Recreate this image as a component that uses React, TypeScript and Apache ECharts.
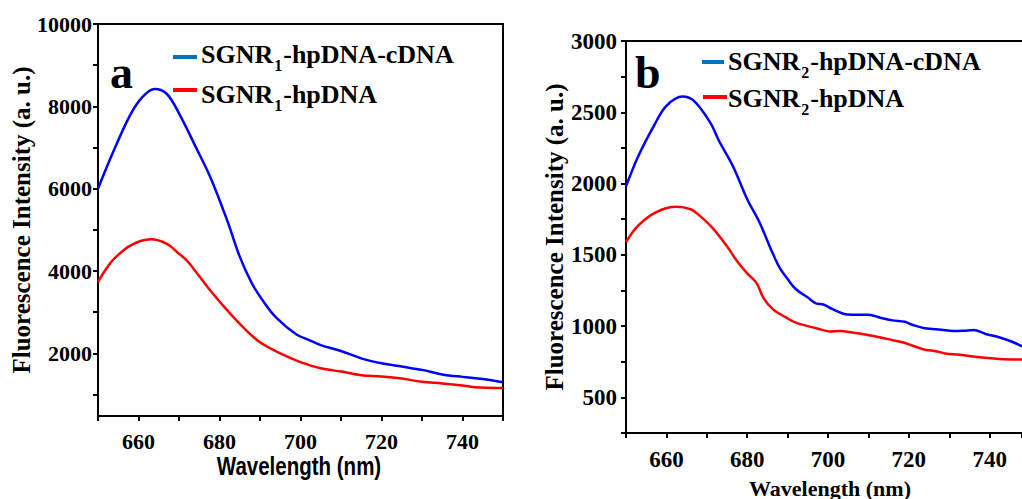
import React, { useEffect, useRef } from "react";
import * as echarts from "echarts";

// ---- Panel a data (wavelength nm / intensity a.u.) ----
const wlA_cDNA = [650, 654, 658, 661, 664, 667, 670, 674, 678, 682, 685, 688, 691, 694, 699, 702, 705, 710, 715, 720, 725, 730, 735, 740, 745, 750];
const valA_cDNA = [6000, 6950, 7800, 8230, 8420, 8300, 7830, 7040, 6220, 5200, 4350, 3700, 3240, 2870, 2460, 2330, 2200, 2060, 1880, 1760, 1680, 1600, 1490, 1430, 1380, 1300];
const wlA_hp = [650, 652, 654, 658, 663, 667, 670, 672, 677, 681, 686, 690, 695, 700, 705, 710, 715, 720, 725, 730, 735, 740, 743, 750];
const valA_hp = [3740, 4050, 4300, 4620, 4770, 4660, 4420, 4250, 3620, 3150, 2620, 2270, 2000, 1790, 1640, 1560, 1470, 1440, 1390, 1310, 1270, 1220, 1180, 1160];

// ---- Panel b data ----
const wlB_cDNA = [650, 653, 657, 660, 664, 667, 671, 673, 676.5, 680, 683, 686, 688, 690, 692, 695, 697, 699, 701, 704, 706, 710, 713, 716, 719, 721, 724, 728, 731, 733.5, 736, 739, 742.5, 746, 748];
const valB_cDNA = [1980, 2190, 2410, 2545, 2610, 2575, 2420, 2300, 2120, 1890, 1730, 1530, 1410, 1330, 1260, 1200, 1160, 1150, 1120, 1085, 1080, 1080, 1058, 1040, 1030, 1008, 985, 975, 966, 968, 972, 945, 920, 885, 857];
const wlB_hp = [650, 653, 657.5, 662.5, 666, 668, 671.5, 675, 677.5, 680, 682.3, 684, 686.4, 689.7, 692, 695, 698, 700.4, 703, 706, 709.5, 713, 716, 718.6, 721, 723.5, 727, 729, 732.6, 737.5, 742.5, 748];
const valB_hp = [1590, 1705, 1800, 1837, 1820, 1780, 1686, 1560, 1455, 1370, 1303, 1198, 1117, 1059, 1024, 1000, 978, 962, 966, 955, 939, 920, 901, 885, 862, 838, 822, 808, 799, 781, 769, 765];

// ---- Tick values ----
const xTicksLabelled = [660, 680, 700, 720, 740];
const yTicksA = [1000, 2000, 3000, 4000, 5000, 6000, 7000, 8000, 9000, 10000];
const yLabelsA = [2000, 4000, 6000, 8000, 10000];
const yLabelsB = [500, 1000, 1500, 2000, 2500, 3000];

const xTitle = "Wavelength (nm)";
const yTitle = "Fluorescence Intensity (a. u.)";

const SERIF = '"Liberation Serif", "Times New Roman", serif';
const SANS = '"Liberation Sans", Arial, sans-serif';
const BLUE = "#0000FF";
const RED = "#FF0000";
const LEG_BLUE = "#0070C0";

const pairs = (xs: number[], ys: number[]) => xs.map((x, i) => [x, ys[i]]);

function measure(text: string, size: number): number {
  const c = document.createElement("canvas").getContext("2d");
  if (!c) return text.length * size * 0.55;
  c.font = `bold ${size}px ${SERIF}`;
  return c.measureText(text).width;
}

function legendEntry(x: number, baseline: number, sub: string, rest: string, color: string, lx1: number, lx2: number, ly: number) {
  const big = 26;
  const small = 16;
  const w1 = measure("SGNR", big);
  const w2 = measure(sub, small);
  const c = (b: number, s: number) => b - 0.3375 * s;
  return [
    { type: "line", shape: { x1: lx1, y1: ly, x2: lx2, y2: ly }, style: { stroke: color, lineWidth: 4 } },
    { type: "text", x, y: c(baseline, big), style: { text: "SGNR", font: `bold ${big}px ${SERIF}`, fill: "#000", textAlign: "left", textVerticalAlign: "middle" } },
    { type: "text", x: x + w1 + 1, y: c(baseline + 8, small), style: { text: sub, font: `bold ${small}px ${SERIF}`, fill: "#000", textAlign: "left", textVerticalAlign: "middle" } },
    { type: "text", x: x + w1 + w2 + 2, y: c(baseline, big), style: { text: rest, font: `bold ${big}px ${SERIF}`, fill: "#000", textAlign: "left", textVerticalAlign: "middle" } },
  ];
}

export default function App() {
  const ref = useRef<HTMLDivElement>(null);
  useEffect(() => {
    if (!ref.current) return;
    const chart = echarts.init(ref.current, undefined, { renderer: "svg" });
    const axisLine = { show: true, lineStyle: { color: "#000", width: 2 } };
    const tick = { show: true, inside: false, length: 5, lineStyle: { color: "#000", width: 2 } };
    const lbl = (size: number, margin: number, custom: number[]) => ({
      customValues: custom,
      formatter: (v: number) => String(v),
      fontFamily: SERIF,
      fontWeight: "bold",
      fontSize: size,
      color: "#000",
      margin,
    });
    const line = (xi: number, xs: number[], ys: number[], color: string) => ({
      type: "line",
      xAxisIndex: xi,
      yAxisIndex: xi,
      data: pairs(xs, ys),
      showSymbol: false,
      smooth: 0.35,
      lineStyle: { color, width: 2.5 },
      itemStyle: { color },
    });
    const option: any = {
      animation: false,
      backgroundColor: "#fff",
      grid: [
        { left: 98, top: 24, width: 405, height: 392, show: true, borderColor: "#000", borderWidth: 2, backgroundColor: "transparent" },
        { left: 626, top: 41, width: 396, height: 392 },
      ],
      xAxis: [
        { gridIndex: 0, type: "value", min: 650, max: 750, interval: 10, axisLine, axisTick: tick, axisLabel: lbl(22, 14, xTicksLabelled), splitLine: { show: false } },
        { gridIndex: 1, type: "value", min: 650, max: 748, interval: 10, axisLine, axisTick: tick, axisLabel: lbl(23, 15, xTicksLabelled), splitLine: { show: false } },
        { gridIndex: 1, type: "value", position: "top", min: 650, max: 748, axisLine, axisTick: { show: false }, axisLabel: { show: false }, splitLine: { show: false } },
      ],
      yAxis: [
        { gridIndex: 0, type: "value", min: 480, max: 10000, axisLine, axisTick: { ...tick, customValues: yTicksA }, axisLabel: lbl(22, 6, yLabelsA), splitLine: { show: false } },
        { gridIndex: 1, type: "value", min: 250, max: 3000, interval: 250, axisLine, axisTick: tick, axisLabel: lbl(23, 9, yLabelsB), splitLine: { show: false } },
      ],
      series: [
        line(0, wlA_cDNA, valA_cDNA, BLUE),
        line(0, wlA_hp, valA_hp, RED),
        line(1, wlB_cDNA, valB_cDNA, BLUE),
        line(1, wlB_hp, valB_hp, RED),
      ],
      graphic: [
        // panel letters
        { type: "text", x: 110, y: 72, style: { text: "a", font: `bold 46px ${SERIF}`, fill: "#000", textAlign: "left", textVerticalAlign: "middle" } },
        { type: "text", x: 635, y: 72, style: { text: "b", font: `bold 46px ${SERIF}`, fill: "#000", textAlign: "left", textVerticalAlign: "middle" } },
        // legends
        ...legendEntry(201, 63, "1", "-hpDNA-cDNA", LEG_BLUE, 173, 197, 57),
        ...legendEntry(201, 103, "1", "-hpDNA", RED, 173, 197, 90),
        ...legendEntry(728, 70, "2", "-hpDNA-cDNA", LEG_BLUE, 702, 724, 62),
        ...legendEntry(728, 107, "2", "-hpDNA", RED, 703, 727, 97),
        // axis titles
        { type: "text", x: 299, y: 466, scaleX: 0.82, style: { text: xTitle, font: `bold 25px ${SANS}`, fill: "#000", textAlign: "center", textVerticalAlign: "middle" } },
        { type: "text", x: 830, y: 488, style: { text: xTitle, font: `bold 22px ${SERIF}`, fill: "#000", textAlign: "center", textVerticalAlign: "middle" } },
        { type: "text", x: 21, y: 220, rotation: Math.PI / 2, style: { text: yTitle, font: `bold 25px ${SERIF}`, fill: "#000", textAlign: "center", textVerticalAlign: "middle" } },
        { type: "text", x: 554, y: 237, rotation: Math.PI / 2, style: { text: yTitle, font: `bold 25px ${SERIF}`, fill: "#000", textAlign: "center", textVerticalAlign: "middle" } },
      ],
    };
    chart.setOption(option);
    return () => chart.dispose();
  }, []);
  return <div ref={ref} style={{ position: "fixed", left: 0, top: 0, width: 1022, height: 499 }} />;
}
